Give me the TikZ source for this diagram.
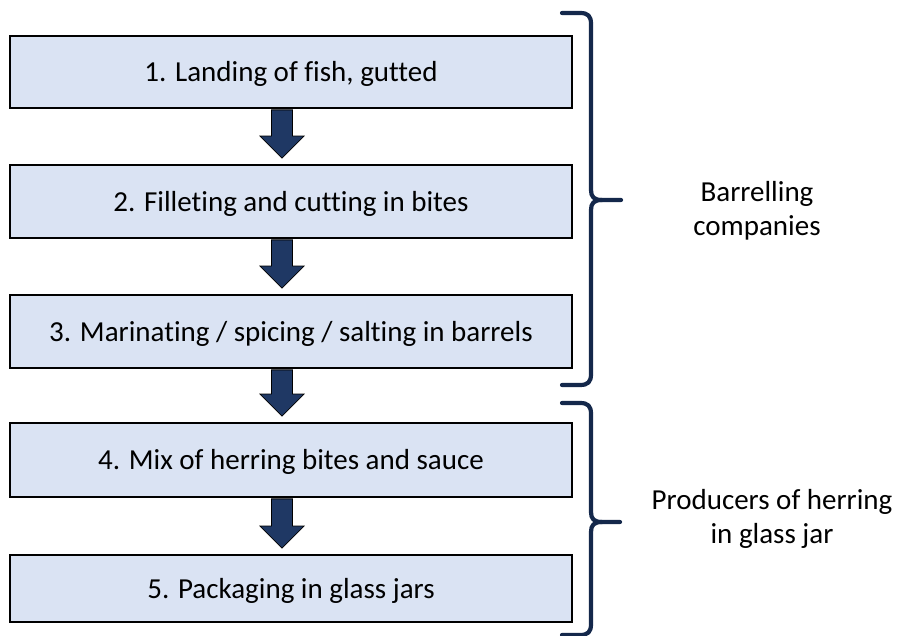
\documentclass[tikz,border=0pt]{standalone}
\usepackage{fontspec}
\setmainfont[Ligatures={NoCommon}]{Carlito}
\usetikzlibrary{calc}
\definecolor{boxfill}{HTML}{DAE3F3}
\definecolor{arrowfill}{HTML}{1F3864}
\definecolor{bracecol}{HTML}{14284B}
\tikzset{
  stepbox/.style={draw=black, line width=1.8pt, fill=boxfill, minimum width=562pt,
    inner sep=0pt, text height=27.6pt, text depth=7.8pt,
    font=\fontsize{29}{34}\selectfont},
  blockarrow/.style={draw=black, line width=0.8pt, fill=arrowfill, line join=miter},
  bracestyle/.style={draw=bracecol, line width=4.2pt, line cap=round, line join=round},
  grouplabel/.style={align=center, inner sep=0pt, font=\fontsize{29}{34}\selectfont}
}
\newcommand{\flowarrow}[2]{%
  \filldraw[blockarrow] let \p1=($(#1.south)+(-9pt,-1pt)$), \p2=($(#2.north)+(-9pt,6pt)$) in
    (\x1-10.5pt,\y1) -- (\x1+10.5pt,\y1) -- (\x1+10.5pt,\y2+22pt) -- (\x1+22pt,\y2+22pt)
    -- (\x1,\y2) -- (\x1-22pt,\y2+22pt) -- (\x1-10.5pt,\y2+22pt) -- cycle;}
\begin{document}
\begin{tikzpicture}[x=1pt,y=-1pt]
\useasboundingbox (0,0) rectangle (898,636);
% boxes
\node[stepbox, minimum height=72pt] (b1) at (291,72) {1. Landing of fish, gutted};
\node[stepbox, minimum height=73pt] (b2) at (291,201.5) {2. Filleting and cutting in bites};
\node[stepbox, minimum height=73pt] (b3) at (291,331.5) {3. Marinating / spicing / salting in barrels};
\node[stepbox, minimum height=74pt] (b4) at (291,460) {4. Mix of herring bites and sauce};
\node[stepbox, minimum height=67pt] (b5) at (291,588.5) {5. Packaging in glass jars};
% arrows
\flowarrow{b1}{b2}
\flowarrow{b2}{b3}
\flowarrow{b3}{b4}
\flowarrow{b4}{b5}
% braces
\draw[bracestyle] (562,13) -- (580,13) .. controls (588,13) and (591,16) .. (591,24)
  -- (591,190) .. controls (591,197) and (594,200) .. (602,200) -- (621,200);
\draw[bracestyle] (602,200) .. controls (594,200) and (591,203) .. (591,210)
  -- (591,374) .. controls (591,382) and (588,385) .. (580,385) -- (562,385);
\draw[bracestyle] (562,403) -- (580,403) .. controls (588,403) and (591,406) .. (591,414)
  -- (591,512) .. controls (591,519) and (594,522) .. (602,522) -- (620,522);
\draw[bracestyle] (602,522) .. controls (594,522) and (591,525) .. (591,532)
  -- (591,624) .. controls (591,632) and (588,635) .. (580,635) -- (562,635);
% labels
\node[grouplabel] (l1) at (757,211) {Barrelling\\companies};
\node[grouplabel] (l2) at (772,519) {Producers of herring\\in glass jar};
\end{tikzpicture}
\end{document}
